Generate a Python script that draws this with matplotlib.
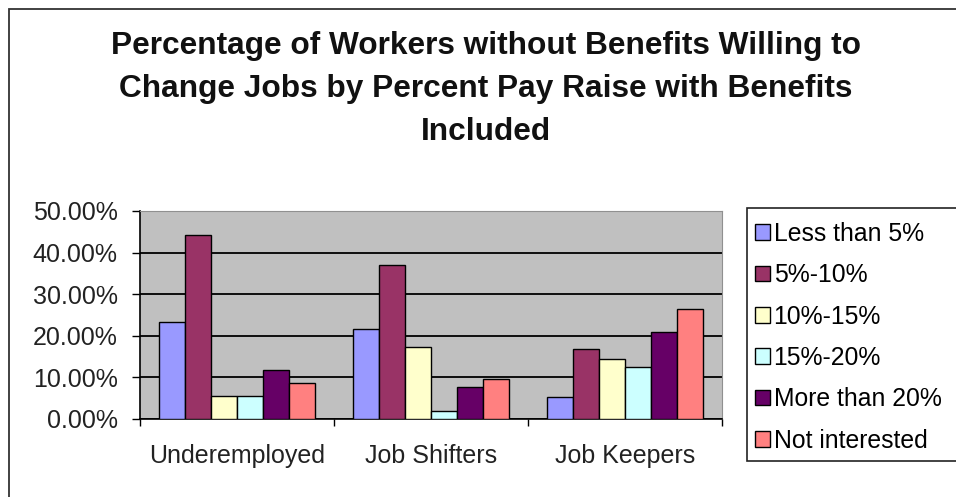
import matplotlib.pyplot as plt
import numpy as np
from matplotlib.patches import Rectangle

plt.rcParams['font.family'] = ['Liberation Sans', 'DejaVu Sans']

categorias = ['Underemployed', 'Job Shifters', 'Job Keepers']
series = ['Less than 5%', '5%-10%', '10%-15%', '15%-20%', 'More than 20%', 'Not interested']
cores = ['#9999FF', '#993366', '#FFFFCC', '#CCFFFF', '#660066', '#FF8080']

# percentuais por serie (Underemployed, Job Shifters, Job Keepers)
menos_5 = [23.4, 21.6, 5.3]
de_5_10 = [44.2, 37.0, 16.8]
de_10_15 = [5.6, 17.2, 14.4]
de_15_20 = [5.6, 2.0, 12.5]
mais_20 = [11.8, 7.6, 20.8]
sem_interesse = [8.6, 9.7, 26.4]
valores = [menos_5, de_5_10, de_10_15, de_15_20, mais_20, sem_interesse]

W, H = 956, 497
fig = plt.figure(figsize=(W / 100, H / 100), dpi=100)

# borda do grafico
fig.patches.append(Rectangle((8.5 / W, -0.1), 1.2, 1 - 8.5 / H + 0.1,
                             transform=fig.transFigure, fill=False,
                             edgecolor='#333333', linewidth=1.3))

ax = fig.add_axes([140 / W, 1 - 419 / H, 582 / W, 208 / H])
ax.set_facecolor('#C0C0C0')

largura = 1 / 7.5
x = np.arange(len(categorias)) + 0.5
for i, (nome, cor, vals) in enumerate(zip(series, cores, valores)):
    desloc = (i - 2.5) * largura
    ax.bar(x + desloc, vals, largura, color=cor, edgecolor='black',
           linewidth=1.0, label=nome, zorder=3)

ax.set_xlim(0, 3)
ax.set_ylim(0, 50)
ax.set_yticks(np.arange(0, 51, 10))
ax.set_yticklabels([f'{v:.2f}%' for v in np.arange(0, 51, 10)])
ax.yaxis.grid(True, color='black', linewidth=1.3, zorder=1)
ax.set_axisbelow(True)

ax.set_xticks([0, 1, 2, 3])
ax.set_xticklabels([])
ax.set_xticks(x, minor=True)
ax.set_xticklabels(categorias, minor=True)
ax.tick_params(axis='x', which='major', length=5, width=1, color='black')
ax.tick_params(axis='x', which='minor', length=0, pad=18, labelsize=18, labelcolor='#222222')
ax.tick_params(axis='y', length=6, width=1, pad=10, labelsize=18, labelcolor='#222222')

for lado in ['top', 'right']:
    ax.spines[lado].set_color('#909090')
for lado in ['left', 'bottom']:
    ax.spines[lado].set_color('black')
    ax.spines[lado].set_linewidth(1.2)

fig.text(486 / W, 1 - 31 / H,
         'Percentage of Workers without Benefits Willing to\n'
         'Change Jobs by Percent Pay Raise with Benefits\nIncluded',
         ha='center', va='top', fontsize=22.8, fontweight='bold',
         linespacing=1.57, color='#111111')

# moldura da legenda
fig.patches.append(Rectangle((747 / W, 1 - 461 / H), (970 - 747) / W, (461 - 208) / H,
                             transform=fig.transFigure, facecolor='white',
                             edgecolor='#222222', linewidth=1.2, zorder=0))
handles, labels = ax.get_legend_handles_labels()
fig.legend(handles, labels, loc='upper left', bbox_to_anchor=(755 / W, 1 - 222 / H),
           frameon=False, fontsize=17.8, handlelength=0.6, handleheight=0.6,
           handletextpad=0.15, labelspacing=0.70, borderpad=0, borderaxespad=0)

fig.savefig('out.png', dpi=100)
